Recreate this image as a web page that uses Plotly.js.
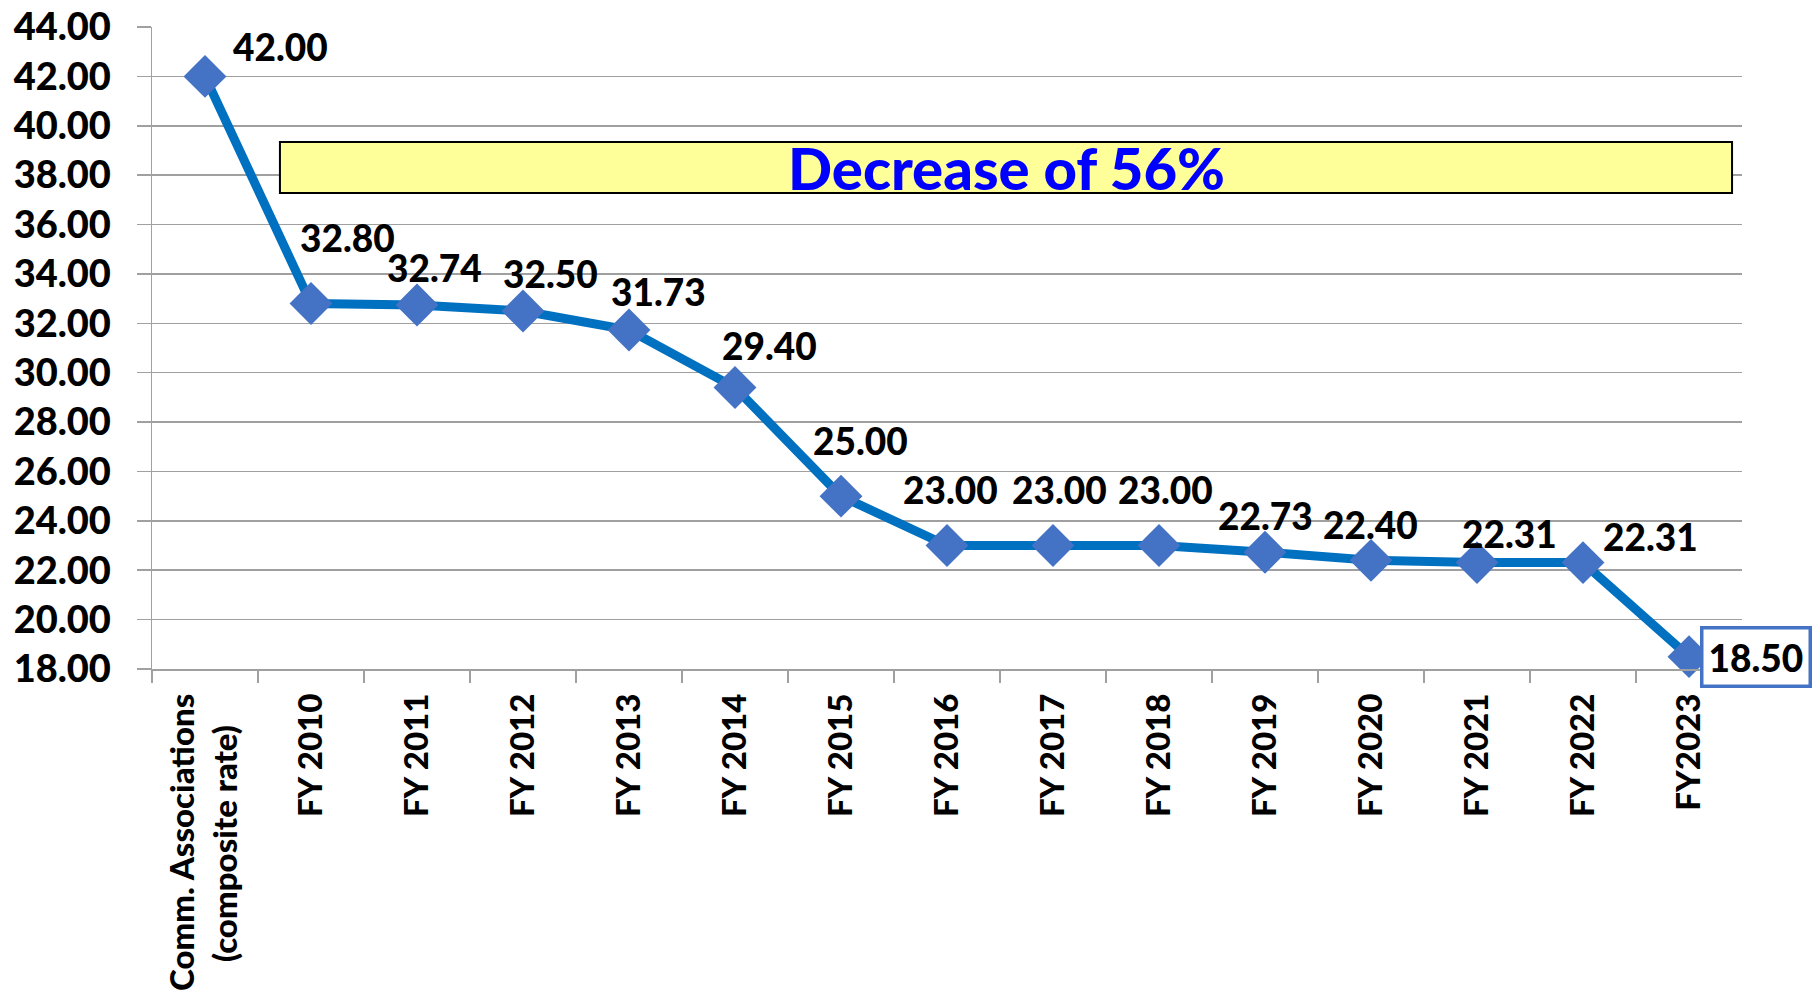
<!DOCTYPE html>
<html>
<head>
<meta charset="utf-8">
<script src="https://cdn.plot.ly/plotly-3.0.1.min.js"></script>
<style>html,body{margin:0;padding:0;background:#fff;}#chart{width:1820px;height:999px;}</style>
</head>
<body>
<div id="chart"></div>
<script>
// ---- data ----
const categories = [
  "Comm. Associations<br>(composite rate)\u00a0\u00a0\u00a0\u00a0",
  "FY 2010", "FY 2011", "FY 2012", "FY 2013", "FY 2014", "FY 2015",
  "FY 2016", "FY 2017", "FY 2018", "FY 2019", "FY 2020", "FY 2021",
  "FY 2022", "FY2023"
];
const rates = [42.00, 32.80, 32.74, 32.50, 31.73, 29.40, 25.00, 23.00, 23.00, 23.00, 22.73, 22.40, 22.31, 22.31, 18.50];
const bannerText = "Decrease of 56%";

// label placement (pixel shifts), style only
const labelShiftX = [75, 36, 17, 27, 29, 34, 19, 3, 6, 6, 0, -1, 32, 67, 67];
const labelShiftY = [30, 66, 38, 37, 38, 42, 56, 56, 56, 56, 37, 36, 29, 26, 0];

const FONT = "Lato, 'Open Sans', sans-serif";

const trace = {
  type: "scatter",
  mode: "lines+markers",
  x: categories,
  y: rates,
  line: {color: "#0070C0", width: 9},
  marker: {symbol: "diamond", size: 33, color: "#4472C4"},
  hoverinfo: "skip",
  cliponaxis: false
};

const annotations = rates.map((v, i) => {
  const last = i === rates.length - 1;
  return {
    x: categories[i], y: v, xref: "x", yref: "y",
    text: v.toFixed(2), showarrow: false,
    xshift: labelShiftX[i], yshift: labelShiftY[i],
    font: {family: FONT, size: 37, color: "#000", weight: 900},
    bgcolor: last ? "#ffffff" : "rgba(0,0,0,0)",
    bordercolor: last ? "#4472C4" : "rgba(0,0,0,0)",
    borderwidth: last ? 3.5 : 0,
    borderpad: last ? 5 : 0
  };
});

annotations.push({
  x: 7.557, y: 38.3, xref: "x", yref: "y",
  text: bannerText, showarrow: false,
  font: {family: FONT, size: 58, color: "#0000FF", weight: 900}
});

const layout = {
  width: 1820, height: 999,
  margin: {l: 152, r: 78, t: 27, b: 330},
  paper_bgcolor: "#fff", plot_bgcolor: "#fff",
  showlegend: false,
  font: {family: FONT, color: "#000"},
  xaxis: {
    type: "category",
    tickangle: -90,
    tickson: "boundaries",
    ticks: "outside", ticklen: 12, tickcolor: "#A0A0A0", tickwidth: 1.5,
    ticklabelstandoff: 10,
    showgrid: false,
    showline: true, linecolor: "#A0A0A0", linewidth: 1.5,
    tickfont: {family: FONT, size: 33, color: "#000", weight: 900},
    range: [-0.5, 14.5],
    fixedrange: true
  },
  yaxis: {
    range: [18, 44],
    dtick: 2, tick0: 18,
    tickformat: ".2f",
    ticks: "outside", ticklen: 14, tickcolor: "#A0A0A0", tickwidth: 1.5,
    ticklabelstandoff: 18,
    ticklabeloverflow: "allow",
    showgrid: true, gridcolor: "#A0A0A0", gridwidth: 1.5,
    zeroline: false,
    showline: true, linecolor: "#A0A0A0", linewidth: 1.5,
    tickfont: {family: FONT, size: 38, color: "#000", weight: 900},
    fixedrange: true
  },
  shapes: [{
    type: "rect", xref: "x", yref: "y",
    x0: 0.707, x1: 14.406, y0: 37.28, y1: 39.34,
    fillcolor: "#FFFF99", line: {color: "#000", width: 2},
    layer: "above"
  }],
  annotations: annotations
};

Plotly.newPlot("chart", [trace], layout, {displayModeBar: false, staticPlot: true});
</script>
</body>
</html>
